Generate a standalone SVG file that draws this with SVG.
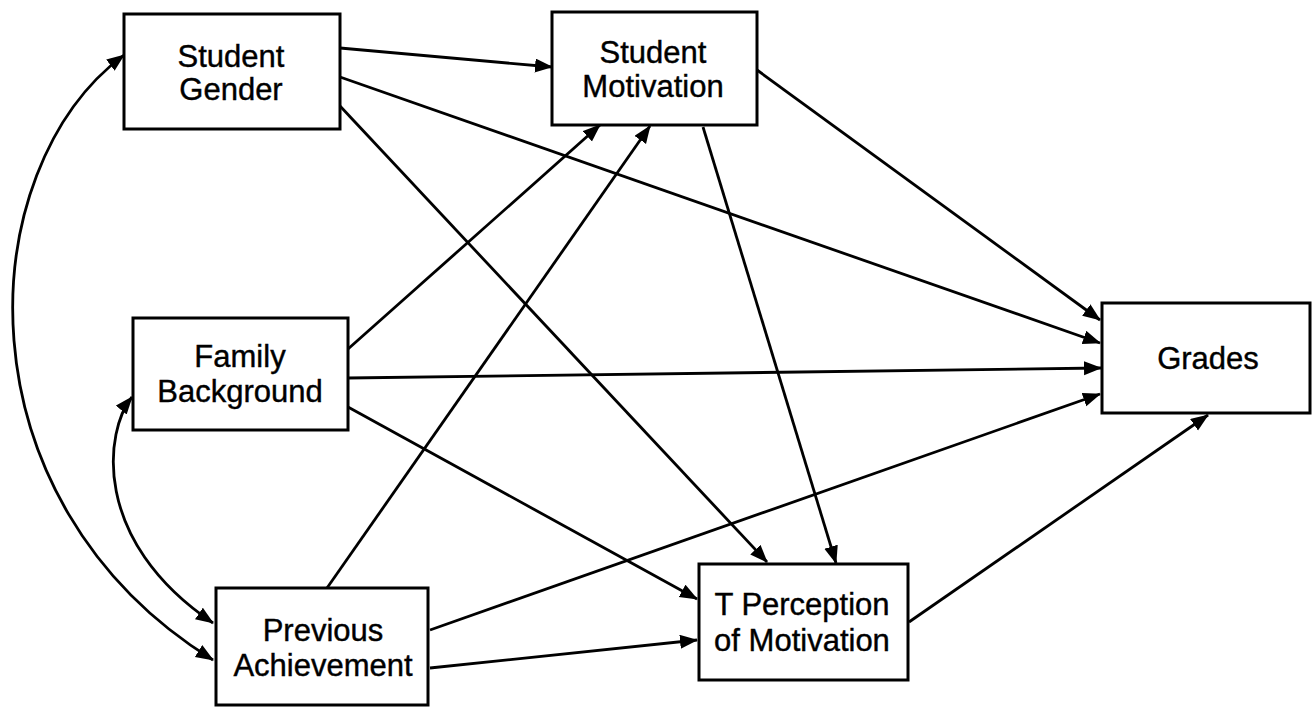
<svg xmlns="http://www.w3.org/2000/svg" width="1313" height="708" viewBox="0 0 1313 708">
<defs>
<style>
.box{fill:#fff;stroke:#000;stroke-width:3}
.lbl{font-family:"Liberation Sans",Arial,sans-serif;font-size:31px;fill:#000;text-anchor:middle;stroke:#000;stroke-width:0.4}
.c{fill:none;stroke:#000;stroke-width:2.8}
</style>
<marker id="ah" markerUnits="userSpaceOnUse" markerWidth="20" markerHeight="16" refX="17" refY="7" orient="auto-start-reverse">
<path d="M0,0 L18,7 L0,14 Z" fill="#000"/>
</marker>
</defs>
<rect width="1313" height="708" fill="#fff"/>
<g id="connectors">
<line class="c" x1="340" y1="48" x2="552" y2="67" marker-end="url(#ah)"/>
<line class="c" x1="340" y1="77" x2="1100" y2="343" marker-end="url(#ah)"/>
<line class="c" x1="340" y1="106" x2="767" y2="562" marker-end="url(#ah)"/>
<line class="c" x1="757" y1="70" x2="1100" y2="320" marker-end="url(#ah)"/>
<line class="c" x1="703" y1="127" x2="836" y2="563" marker-end="url(#ah)"/>
<line class="c" x1="348" y1="349" x2="600" y2="125" marker-end="url(#ah)"/>
<line class="c" x1="348" y1="378" x2="1101" y2="368" marker-end="url(#ah)"/>
<line class="c" x1="348" y1="407" x2="697" y2="599" marker-end="url(#ah)"/>
<line class="c" x1="327" y1="588" x2="650" y2="126" marker-end="url(#ah)"/>
<line class="c" x1="430" y1="630" x2="1100" y2="394" marker-end="url(#ah)"/>
<line class="c" x1="430" y1="668" x2="697" y2="640" marker-end="url(#ah)"/>
<line class="c" x1="909" y1="622" x2="1208" y2="415" marker-end="url(#ah)"/>
<path class="c" d="M124,55 C-30,170 -45,500 213,660" marker-start="url(#ah)" marker-end="url(#ah)"/>
<path class="c" d="M132,397 C105,430 90,540 213,623" marker-start="url(#ah)" marker-end="url(#ah)"/>
</g>
<g id="student-gender">
<rect class="box" x="124" y="14" width="216" height="115"/>
<text class="lbl" x="231" y="67">Student</text>
<text class="lbl" x="231" y="100">Gender</text>
</g>
<g id="student-motivation">
<rect class="box" x="552" y="12" width="205" height="113"/>
<text class="lbl" x="653" y="63">Student</text>
<text class="lbl" x="653" y="97">Motivation</text>
</g>
<g id="family-background">
<rect class="box" x="133" y="318" width="215" height="112"/>
<text class="lbl" x="240" y="367">Family</text>
<text class="lbl" x="240" y="402">Background</text>
</g>
<g id="grades">
<rect class="box" x="1102" y="303" width="208" height="110"/>
<text class="lbl" x="1208" y="369">Grades</text>
</g>
<g id="previous-achievement">
<rect class="box" x="216" y="588" width="212" height="117"/>
<text class="lbl" x="323" y="641">Previous</text>
<text class="lbl" x="323" y="676">Achievement</text>
</g>
<g id="t-perception">
<rect class="box" x="699" y="564" width="209" height="116"/>
<text class="lbl" x="802" y="615">T Perception</text>
<text class="lbl" x="802" y="651">of Motivation</text>
</g>
</svg>
